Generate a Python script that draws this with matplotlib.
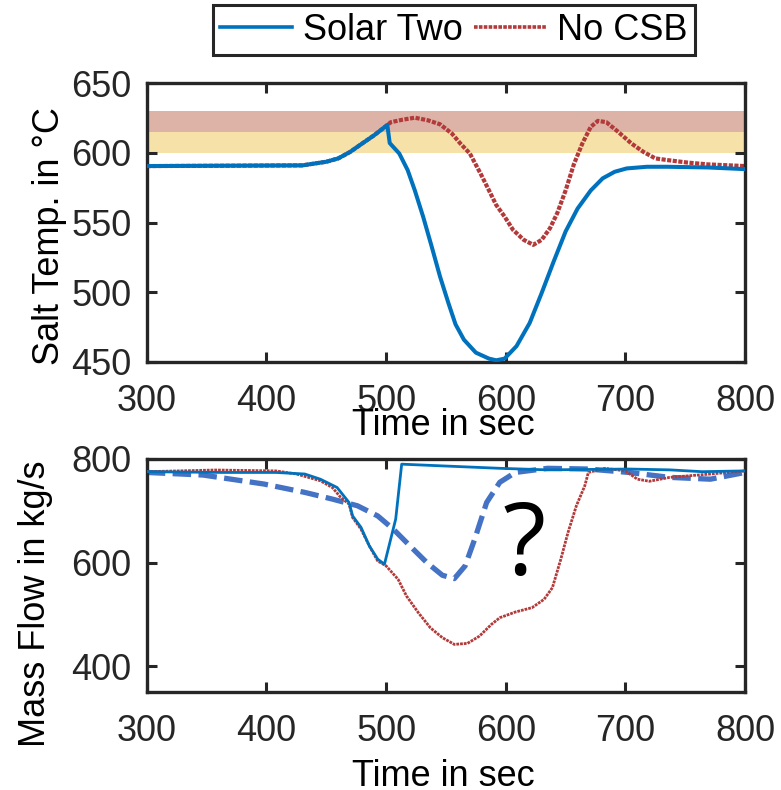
import numpy as np
import matplotlib
matplotlib.use("Agg")
import matplotlib.pyplot as plt

plt.rcParams["font.family"] = ["Liberation Sans", "DejaVu Sans"]

# Salt outlet temperature (deg C)
t_solar = [300, 430, 450, 460, 470, 480, 490, 499, 501, 503, 511, 518, 524, 531, 538, 545,
           552, 558, 565, 575, 586, 592, 599, 609, 620, 630, 640, 650, 660, 671, 681, 691,
           701, 718, 735, 769, 800]
temp_solar = [590.5, 591, 593.6, 596, 600.7, 606.7, 612.6, 618.6, 620, 607, 599.5, 587.6,
              573, 554, 533, 511.4, 492.4, 477, 466, 456.7, 452.4, 451.2, 452.4, 461.4, 478,
              499.5, 522, 543.6, 560, 573, 581.7, 586.4, 588.8, 590, 590, 589.5, 588.3]

t_nocsb = [300, 430, 450, 460, 470, 480, 490, 499, 504, 514, 524, 535, 545, 555, 562, 570,
           579, 586, 592, 599, 606, 615, 623, 630, 637, 643, 650, 657, 664, 671, 677, 684,
           694, 705, 715, 725, 735, 752, 769, 800]
temp_nocsb = [590.5, 591, 593.6, 596, 600.7, 606.7, 612.6, 618.6, 622, 623.8, 625.2, 623.3,
              620.5, 613.8, 606.7, 599.5, 585, 573, 562.6, 554.3, 544.8, 537.6, 534, 537.6,
              546, 556.7, 573, 592, 606.7, 618.6, 622.9, 622, 615, 606.7, 600.7, 596, 594.8,
              593, 591.7, 590.5]

# Receiver mass flow (kg/s)
m_t_solar = [300, 364, 408, 432, 445, 459, 469, 472, 479, 486, 493, 498.6, 508, 513,
             595, 635, 703, 737, 764, 800]
flow_solar = [775.5, 774, 774, 771, 761, 745, 716, 690, 668, 632, 606.5, 596.8, 684, 790,
              782, 779, 780.6, 779, 775.5, 777]

m_t_nocsb = [300, 357, 408, 425, 445, 455, 462, 469, 472, 479, 486, 493, 500, 510, 517, 527,
             537, 547, 557, 568, 578, 588, 595, 608, 622, 632, 639, 646, 652, 659, 666, 669,
             683, 700, 710, 720, 737, 771, 800]
flow_nocsb = [775.5, 778.7, 777, 771, 758, 745, 726, 713, 687, 664.5, 632, 603, 593.5, 567.7,
              535.5, 503, 474, 455, 442, 444, 458, 480.6, 493.5, 504.5, 513, 529, 551.6, 606.5,
              658, 709.7, 748, 774, 782, 777, 761, 757, 764.5, 771, 777]

m_t_guess = [300, 347, 398, 432, 455, 476, 493, 506, 520, 534, 547, 557, 566, 574, 584, 595,
             608, 635, 669, 703, 737, 771, 800]
flow_guess = [774, 769, 751.6, 735.5, 722.6, 709.7, 690, 664.5, 632, 600, 575.5, 569, 593.5,
              645, 716, 755, 774, 782, 780.6, 774, 764.5, 761, 774]

# Temperature limit bands
band_low = [600, 615]
band_high = [615, 630]

blue = "#0072BD"
red = "#B23A3A"
dash_blue = "#4472C4"
dark = "#262626"
fs = 26

fig = plt.figure(figsize=(7.81, 7.90), dpi=100)
ax1 = fig.add_axes([0.188, 0.5418, 0.766, 0.353])
ax2 = fig.add_axes([0.188, 0.124, 0.766, 0.295])

ax1.axhspan(*band_low, color="#F6E2A9", lw=0, zorder=0)
ax1.axhspan(*band_high, color="#DDB2A7", lw=0, zorder=0)
l1, = ax1.plot(t_solar, temp_solar, color=blue, lw=2.9, label="Solar Two", zorder=3)
l2, = ax1.plot(t_nocsb, temp_nocsb, color=red, lw=3.0, ls=(0, (1, 0.35)),
               label="No CSB", zorder=2)
ax1.set_ylim(450, 650)
ax1.set_yticks([450, 500, 550, 600, 650])
ax1.set_ylabel("Salt Temp. in °C", fontsize=fs)
ax1.yaxis.set_label_coords(-0.134, 0.452)

ax2.plot(m_t_guess, flow_guess, color=dash_blue, lw=3.8, ls=(0, (3.5, 1.4)), zorder=2)
ax2.plot(m_t_nocsb, flow_nocsb, color=red, lw=2.0, ls=(0, (1, 0.35)), zorder=3)
ax2.plot(m_t_solar, flow_solar, color=blue, lw=2.0, zorder=4)
ax2.text(615, 627, "?", fontsize=72, ha="center", va="center",
         family=["Open Sans", "DejaVu Sans"])
ax2.set_ylim(350, 800)
ax2.set_yticks([400, 600, 800])
ax2.set_ylabel("Mass Flow in kg/s", fontsize=fs)
ax2.yaxis.set_label_coords(-0.157, 0.378)

for ax in (ax1, ax2):
    ax.set_xlim(300, 800)
    ax.set_xticks([300, 400, 500, 600, 700, 800])
    ax.set_xlabel("Time in sec", fontsize=fs)
    ax.tick_params(direction="in", length=7, width=2.2, labelsize=fs, colors=dark,
                   top=True, right=True)
    ax.tick_params(axis="x", pad=15.5)
    ax.tick_params(axis="y", pad=11)
    for sp in ax.spines.values():
        sp.set_linewidth(2.4)
        sp.set_color(dark)

ax1.xaxis.set_label_coords(0.495, -0.165)
ax2.xaxis.set_label_coords(0.495, -0.286)

leg = fig.legend(handles=[l1, l2], loc="center", bbox_to_anchor=(0.581, 0.962), ncol=2,
                 fontsize=fs, frameon=True, fancybox=False, edgecolor=dark, framealpha=1,
                 handlelength=2.0, handletextpad=0.3, columnspacing=0.3, borderpad=0.2,
                 borderaxespad=0.2)
leg.get_frame().set_linewidth(2.2)
for line in leg.get_lines():
    line.set_linewidth(2.6)

fig.savefig("out.png", dpi=100)
